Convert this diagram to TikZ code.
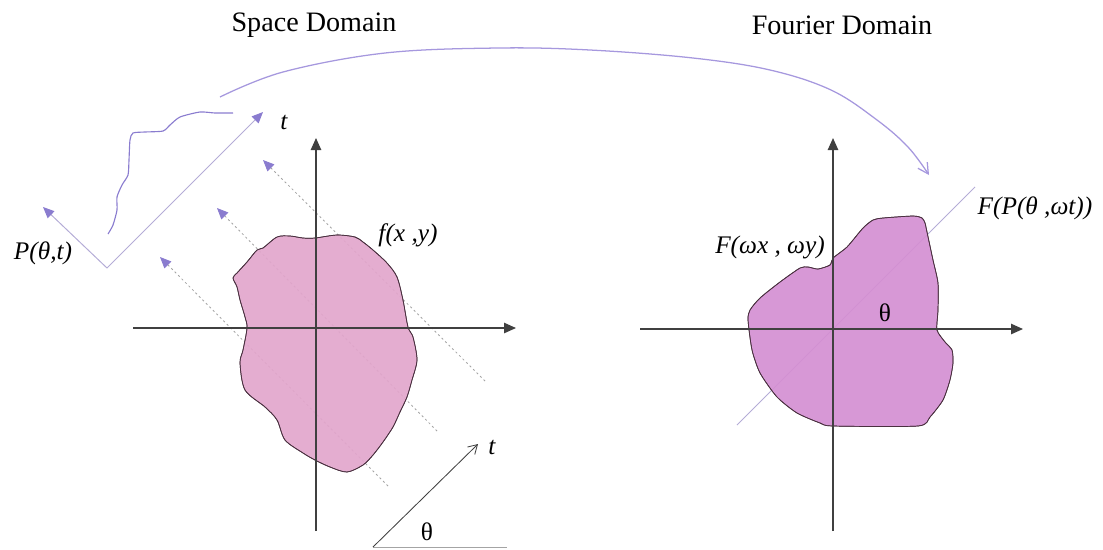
\documentclass[tikz,border=0pt]{standalone}
\usepackage{fontspec}
\setmainfont{Liberation Serif}
\usetikzlibrary{arrows.meta}
\definecolor{BlobPink}{HTML}{E2A6CC}
\definecolor{BlobOrchid}{HTML}{D48FD2}
\definecolor{EdgeDark}{HTML}{4A3040}
\definecolor{AxisGray}{HTML}{404040}
\definecolor{RayGray}{HTML}{A4A4A4}
\definecolor{ArmLilac}{HTML}{B4ACD6}
\definecolor{ProjViolet}{HTML}{8A7CCF}
\definecolor{ArcViolet}{HTML}{A698DE}

\tikzset{
  axisline/.style={AxisGray, line width=1pt, -{Triangle[length=3mm,width=2.6mm]}},
  rayline/.style={RayGray, line width=0.6pt, dash pattern=on 1.5pt off 2pt,
    {Triangle[length=2.8mm,width=2.4mm,color=ProjViolet]}-},
  armline/.style={ArmLilac, line width=0.7pt},
  blobshape/.style={draw=EdgeDark, line width=0.5pt, fill opacity=0.92},
  titletext/.style={font=\fontsize{20}{24}\selectfont},
  labeltext/.style={font=\fontsize{18}{20}\selectfont\itshape}
}

\begin{document}
\begin{tikzpicture}[x=0.025cm, y=-0.025cm, every node/.style={inner sep=0pt}]
  \useasboundingbox (0,0) rectangle (1103,549);

  \node[titletext] (spacetitle) at (314,25) {Space Domain};
  \node[titletext] (fouriertitle) at (842,25) {Fourier Domain};

  \coordinate (arcstart) at (220,97);
  \coordinate (arcend) at (929,175);
  \draw[ArcViolet, line width=0.9pt, -{Straight Barb[length=2.6mm,width=2.8mm]}]
    plot[smooth, tension=0.6] coordinates {(arcstart) (283,72) (385,53) (498,48)
    (590,50) (693,58) (770,70) (831,90) (877,120) (908,147) (arcend)};

  \foreach \ax/\ay/\bx/\by in {263/160/487/383, 217/208/438/432, 160/257/390/488}
    \draw[rayline] (\ax,\ay) -- (\bx,\by);

  \coordinate (vleft) at (43,207);
  \coordinate (vcorner) at (107,268);
  \coordinate (vright) at (263,112);
  \draw[armline, {Triangle[length=2.8mm,width=2.4mm,color=ProjViolet]}-{Triangle[length=2.8mm,width=2.4mm,color=ProjViolet]}]
    (vleft) -- (vcorner) -- (vright);
  \draw[ProjViolet, line width=0.8pt] plot[smooth, tension=0.4] coordinates {(108,234)
    (113,225) (117,210) (117,197) (122,185) (128,175) (129,160) (130,140) (133,133)
    (145,132) (163,131) (170,125) (180,117) (200,112) (215,113) (233,113)};

  \fill[blobshape, fill=BlobPink] plot[smooth cycle, tension=0.5] coordinates {(303,238)
    (315,238) (337,235) (355,237) (363,242) (373,250) (387,263) (397,277) (403,300)
    (408,327) (413,337) (417,360) (412,380) (407,397) (400,412) (393,427) (383,442)
    (373,455) (363,465) (347,472) (330,467) (315,460) (303,453) (285,440) (277,420)
    (265,407) (245,390) (240,363) (243,350) (247,328) (245,317) (240,300) (237,287)
    (233,278) (237,273) (247,262) (257,250) (263,248) (277,237) (290,236)};
  \draw[blobshape, fill=none] plot[smooth cycle, tension=0.5] coordinates {(303,238)
    (315,238) (337,235) (355,237) (363,242) (373,250) (387,263) (397,277) (403,300)
    (408,327) (413,337) (417,360) (412,380) (407,397) (400,412) (393,427) (383,442)
    (373,455) (363,465) (347,472) (330,467) (315,460) (303,453) (285,440) (277,420)
    (265,407) (245,390) (240,363) (243,350) (247,328) (245,317) (240,300) (237,287)
    (233,278) (237,273) (247,262) (257,250) (263,248) (277,237) (290,236)};

  \coordinate (sxleft) at (133,328);
  \coordinate (sxright) at (516,328);
  \coordinate (sybottom) at (316,531);
  \coordinate (sytop) at (316,138);
  \draw[axisline] (sxleft) -- (sxright);
  \draw[axisline] (sybottom) -- (sytop);

  \coordinate (tbase) at (373,547);
  \coordinate (tbaseend) at (507,547);
  \coordinate (ttip) at (478,444);
  \draw[RayGray, line width=0.6pt] (tbase) -- (tbaseend);
  \draw[AxisGray, line width=0.6pt, -{Straight Barb[length=2.2mm,width=2.6mm]}] (tbase) -- (ttip);

  \node[labeltext] (tupper) at (284,122) {t};
  \node[labeltext] (projlabel) at (43,253) {P(θ,t)};
  \node[labeltext] (fxylabel) at (408,235) {f(x ,y)};
  \node[labeltext] (tlower) at (492,447) {t};
  \node[font=\fontsize{18}{20}\selectfont] (thetalower) at (427,532) {θ};

  \coordinate (diaglow) at (737,425);
  \coordinate (diaghigh) at (975,187);
  \draw[ArmLilac, line width=0.7pt] (diaglow) -- (diaghigh);

  \fill[blobshape, fill=BlobOrchid] plot[smooth cycle, tension=0.4] coordinates {(833,258)
    (847,247) (863,228) (873,220) (883,218) (913,216) (922,218) (925,223) (927,232)
    (933,260) (938,283) (938,310) (937,330) (945,342) (952,350) (953,363) (950,380)
    (943,400) (930,417) (918,426) (833,426) (820,423) (797,413) (777,397) (760,373)
    (752,350) (748,320) (750,310) (760,298) (780,282) (800,268) (808,267) (818,269)
    (830,265)};
  \draw[blobshape, fill=none] plot[smooth cycle, tension=0.4] coordinates {(833,258)
    (847,247) (863,228) (873,220) (883,218) (913,216) (922,218) (925,223) (927,232)
    (933,260) (938,283) (938,310) (937,330) (945,342) (952,350) (953,363) (950,380)
    (943,400) (930,417) (918,426) (833,426) (820,423) (797,413) (777,397) (760,373)
    (752,350) (748,320) (750,310) (760,298) (780,282) (800,268) (808,267) (818,269)
    (830,265)};

  \coordinate (fxleft) at (640,329);
  \coordinate (fxright) at (1023,329);
  \coordinate (fybottom) at (833,531);
  \coordinate (fytop) at (833,138);
  \draw[axisline] (fxleft) -- (fxright);
  \draw[axisline] (fybottom) -- (fytop);

  \node[labeltext] (ffxlabel) at (770,247) {F(ωx , ωy)};
  \node[labeltext] (fplabel) at (1035,208) {F(P(θ ,ωt))};
  \node[font=\fontsize{18}{20}\selectfont] (thetaupper) at (885,313) {θ};
\end{tikzpicture}
\end{document}
